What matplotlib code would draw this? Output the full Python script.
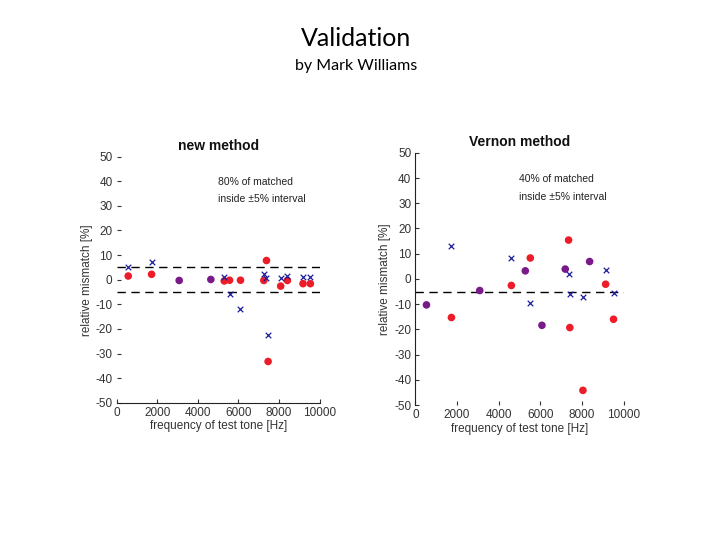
import matplotlib.pyplot as plt
import numpy as np

# test tone frequencies [Hz] and relative mismatch [%]
# red dots = matched value, blue crosses = second value (purple where they coincide)
new_freq = [570, 1720, 3080, 4640, 5300, 5560, 6100, 7250, 7380, 7460, 8080, 8410, 9180, 9540]
new_dot = [1.5, 2.2, -0.3, 0.1, -0.5, -0.2, -0.2, -0.3, 7.8, -33.2, -2.6, -0.3, -1.6, -1.6]
new_cross = [5.3, 7.0, -0.3, 0.5, 1.2, -6.0, -11.8, 2.3, 0.8, -22.3, 0.8, 1.6, 1.1, 1.1]

ver_freq = [530, 1730, 3090, 4610, 5280, 5520, 6080, 7200, 7360, 7420, 8050, 8370, 9140, 9520]
ver_dot = [-10.3, -15.3, -4.6, -2.6, 3.2, 8.3, -18.4, 3.9, 15.4, -19.3, -44.2, 6.9, -2.1, -16.0]
ver_cross = [-10.3, 13.0, -4.6, 8.3, 3.2, -9.7, -18.4, 3.9, 1.9, -5.9, -7.1, 6.9, 3.6, -5.4]

yticks = [50, 40, 30, 20, 10, 0, -10, -20, -30, -40, -50]
xticks = [0, 2000, 4000, 6000, 8000, 10000]

RED = '#ec1c28'
PURPLE = '#7a1a8a'
BLUE = '#1c1c9c'
TXT = '#333333'

plt.rcParams['font.family'] = ['Liberation Sans', 'DejaVu Sans']

fig = plt.figure(figsize=(7.2, 5.4), dpi=100)
fig.text(0.495, 0.928, 'Validation', ha='center', va='center', fontsize=18, family='Lato')
fig.text(0.495, 0.877, 'by Mark Williams', ha='center', va='center', fontsize=11.5, family='Lato')


def panel(rect, title, freq, dot, cross, note, lines, spine):
    ax = fig.add_axes(rect)
    freq = np.array(freq)
    dot = np.array(dot)
    cross = np.array(cross)
    same = np.abs(dot - cross) < 0.5
    ax.scatter(freq[~same], cross[~same], marker='x', s=16, color=BLUE, linewidths=0.9, zorder=3)
    ax.scatter(freq, dot, marker='o', s=30, color=np.where(same, PURPLE, RED), edgecolors='none', zorder=2)
    for y in lines:
        ax.axhline(y, color='black', lw=1.0, ls=(0, (6, 4)), zorder=1)
    ax.set_xlim(0, 10000)
    ax.set_ylim(-50, 50)
    ax.set_xticks(xticks)
    ax.set_yticks(yticks)
    ax.set_yticklabels([str(v) for v in yticks])
    for s in ['top', 'right', 'left', 'bottom']:
        ax.spines[s].set_visible(False)
    ax.spines[spine].set_visible(True)
    ax.spines[spine].set_color('#222222')
    ax.tick_params(direction='in', length=3, width=0.8, labelsize=8.5, colors=TXT, pad=3)
    ax.set_title(title, fontsize=10, fontweight='bold', color='#111111', pad=5)
    ax.set_xlabel('frequency of test tone [Hz]', fontsize=8.5, color=TXT, labelpad=1)
    ax.set_ylabel('relative mismatch [%]', fontsize=8.5, color=TXT, labelpad=2)
    ax.text(5000, 39.5, note, fontsize=7.5, color='#222222', va='center')
    ax.text(5000, 32.6, 'inside \u00b15% interval', fontsize=7.5, color='#222222', va='center')
    return ax


panel([0.162, 0.254, 0.282, 0.456], 'new method', new_freq, new_dot, new_cross,
      '80% of matched', [5, -5], 'bottom')
panel([0.577, 0.250, 0.289, 0.467], 'Vernon method', ver_freq, ver_dot, ver_cross,
      '40% of matched', [-5], 'left')

fig.savefig('out.png', dpi=100)
